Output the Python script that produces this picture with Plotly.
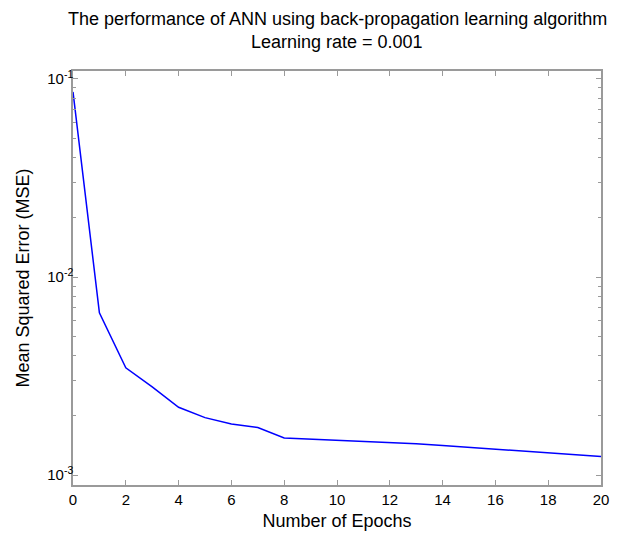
import plotly.graph_objects as go

epochs = list(range(0, 21))
mse = [0.086, 0.0066, 0.00348, 0.00279, 0.0022, 0.00195, 0.00181, 0.00174,
       0.00154, 0.00152, 0.00151, 0.00149, 0.00147, 0.00144, 0.00141, 0.00138,
       0.00135, 0.00132, 0.00129, 0.00126, 0.00124]

x_ticks = list(range(0, 21, 2))
y_tickvals = [1e-3, 1e-2, 1e-1]
y_ticktext = ["10<sup>-3</sup>", "10<sup>-2</sup>", "10<sup>-1</sup>"]
title_lines = ["The performance of ANN using back-propagation learning algorithm",
               "Learning rate = 0.001"]

font = "Liberation Sans, Arial, sans-serif"
axis_common = dict(showline=True, linecolor="#9a9a9a", linewidth=1.5, mirror="ticks",
                   ticks="inside", tickcolor="#9a9a9a", showgrid=False, zeroline=False,
                   tickfont=dict(family=font, size=15, color="black"))

fig = go.Figure()
fig.add_trace(go.Scatter(x=epochs, y=mse, mode="lines",
                         line=dict(color="#0000ff", width=1.5)))

# plot area spans 414 px vertically; title lines placed above it
for text, ypos in zip(title_lines, [1.1256, 1.070]):
    fig.add_annotation(text=text, xref="paper", yref="paper", x=0.5, y=ypos,
                       xanchor="center", yanchor="middle", showarrow=False,
                       font=dict(family=font, size=18, color="black"))

fig.update_layout(
    width=616, height=532,
    margin=dict(l=65, r=23, t=63, b=55),
    paper_bgcolor="white", plot_bgcolor="white",
    showlegend=False,
    xaxis=dict(range=[0, 20], tickvals=x_ticks, ticklen=5,
               title=dict(text="Number of Epochs", font=dict(family=font, size=18, color="black"), standoff=8),
               **axis_common),
    yaxis=dict(type="log", range=[-3.05, -0.96], tickvals=y_tickvals, ticktext=y_ticktext, ticklen=5,
               ticklabelstandoff=-5,
               minor=dict(ticks="inside", ticklen=3, tickcolor="#9a9a9a",
                          tickvals=[k * 10 ** e for e in (-4, -3, -2) for k in range(2, 10)]),
               title=dict(text="Mean Squared Error (MSE)", font=dict(family=font, size=18, color="black"), standoff=13),
               **axis_common),
)

fig.write_html("out.html")
